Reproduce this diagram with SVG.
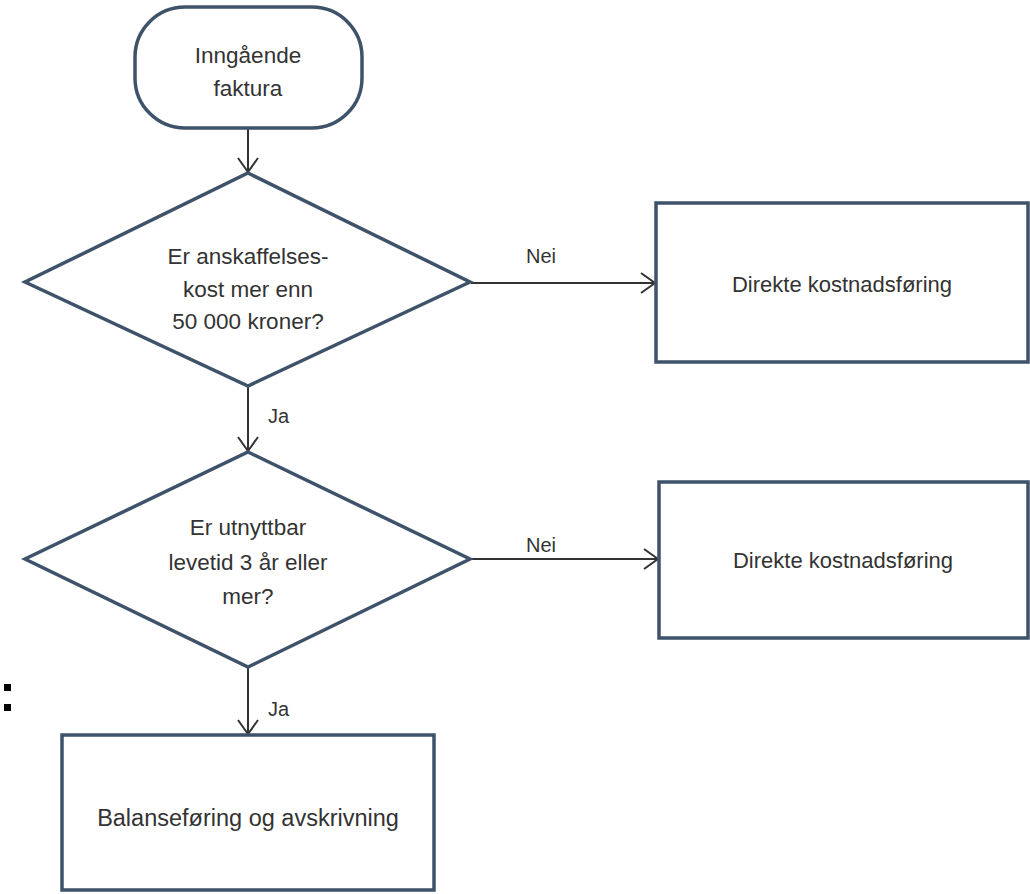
<svg xmlns="http://www.w3.org/2000/svg" width="1030" height="894" viewBox="0 0 1030 894">
  <style>
    .node { fill: #ffffff; stroke: #3e5269; stroke-width: 3.5; }
    .conn { fill: none; stroke: #333333; stroke-width: 2; }
    .t { font-family: "Liberation Sans", Arial, sans-serif; font-size: 22.5px; fill: #333333; text-anchor: middle; }
    .t2 { font-family: "Liberation Sans", Arial, sans-serif; font-size: 22px; fill: #333333; text-anchor: middle; }
    .t3 { font-family: "Liberation Sans", Arial, sans-serif; font-size: 23.5px; fill: #333333; text-anchor: middle; }
    .lbl { font-family: "Liberation Sans", Arial, sans-serif; font-size: 20px; fill: #333333; }
  </style>
  <defs>
    <marker id="arrow" markerWidth="18" markerHeight="24" refX="15" refY="11" orient="auto" markerUnits="userSpaceOnUse">
      <path d="M1,1 L15,11 L1,21" fill="none" stroke="#333333" stroke-width="2"/>
    </marker>
  </defs>
  <rect width="1030" height="894" fill="#ffffff"/>

  <g id="connectors">
    <line class="conn" x1="248" y1="129" x2="248" y2="172" marker-end="url(#arrow)"/>
    <line class="conn" x1="248" y1="387" x2="248" y2="451" marker-end="url(#arrow)"/>
    <line class="conn" x1="248" y1="668" x2="248" y2="734" marker-end="url(#arrow)"/>
    <line class="conn" x1="471" y1="283" x2="655" y2="283" marker-end="url(#arrow)"/>
    <line class="conn" x1="471" y1="559" x2="658" y2="559" marker-end="url(#arrow)"/>
    <text class="lbl" x="526" y="263">Nei</text>
    <text class="lbl" x="526" y="552">Nei</text>
    <text class="lbl" x="268" y="423">Ja</text>
    <text class="lbl" x="268" y="716">Ja</text>
  </g>

  <g id="start">
    <rect class="node" x="135" y="7" width="227" height="121" rx="50" ry="50"/>
    <text class="t" x="248" y="63">Inngående</text>
    <text class="t" x="248" y="96">faktura</text>
  </g>

  <g id="decision1">
    <polygon class="node" points="248,173 470,282 248,386 25,282"/>
    <text class="t" x="248" y="264">Er anskaffelses-</text>
    <text class="t" x="248" y="297">kost mer enn</text>
    <text class="t" x="248" y="329">50 000 kroner?</text>
  </g>

  <g id="result1">
    <rect class="node" x="656" y="203" width="372" height="159"/>
    <text class="t2" x="842" y="292">Direkte kostnadsføring</text>
  </g>

  <g id="decision2">
    <polygon class="node" points="248,452 470,559 248,667 25,559"/>
    <text class="t" x="248" y="535">Er utnyttbar</text>
    <text class="t" x="248" y="570">levetid 3 år eller</text>
    <text class="t" x="248" y="604">mer?</text>
  </g>

  <g id="result2">
    <rect class="node" x="659" y="482" width="369" height="156"/>
    <text class="t2" x="843" y="568">Direkte kostnadsføring</text>
  </g>

  <g id="result3">
    <rect class="node" x="62" y="735" width="372" height="155"/>
    <text class="t3" x="248" y="826">Balanseføring og avskrivning</text>
  </g>

  <rect x="4" y="684" width="7" height="7" fill="#000000"/>
  <rect x="4" y="704" width="7" height="7" fill="#000000"/>
</svg>
